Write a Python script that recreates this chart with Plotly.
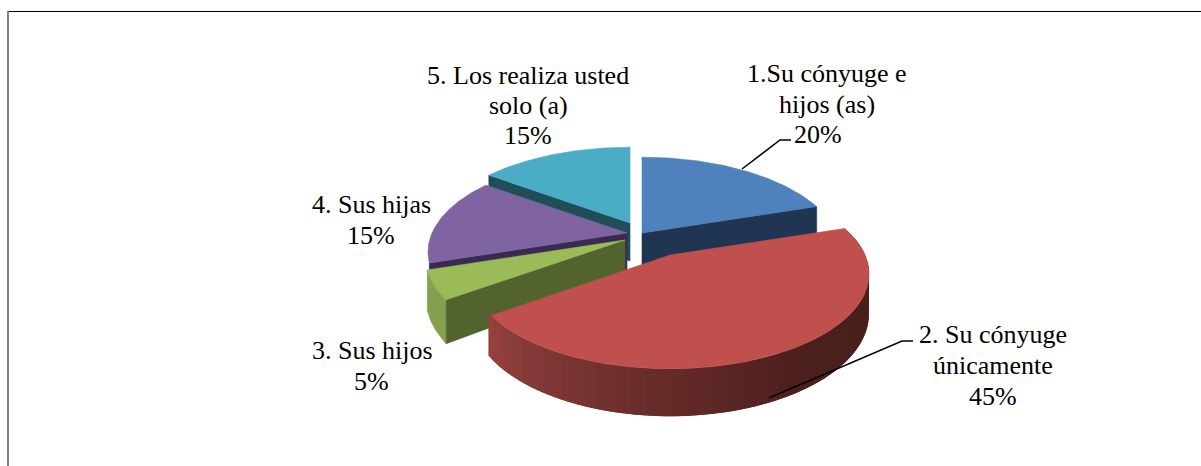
import numpy as np
import plotly.graph_objects as go

# ---- data ----
categories = ["1.Su cónyuge e hijos (as)", "2. Su cónyuge únicamente", "3. Sus hijos",
              "4. Sus hijas", "5. Los realiza usted solo (a)"]
values = [20, 45, 5, 15, 15]
label_lines = [["1.Su cónyuge e", "hijos (as)", "20%"],
               ["2. Su cónyuge", "únicamente", "45%"],
               ["3. Sus hijos", "5%"],
               ["4. Sus hijas", "15%"],
               ["5. Los realiza usted", "solo (a)", "15%"]]

# ---- pie geometry (pixel axes of the page) ----
W, H = 1201, 466
RX, RY, PERSP, DEPTH = 195, 91, 0.2, 38
APEX = [(642, 233), (670, 255), (625, 240), (627, 233), (630, 223)]
TOP = ["#4F81BD", "#BF504D", "#9BBB59", "#8064A2", "#4BACC6"]
CUT = ["#1F3552", "#4E1F1D", "#52632E", "#3A2A52", "#1F4E59"]
WALL_FLAT = {0: "#1F3552", 2: "#84A04E", 3: "#3A2A52", 4: "#1F4E59"}
RED_LIGHT, RED_DARK = np.array([150, 66, 64]), np.array([74, 31, 28])
LABEL_POS = [[(827, 80), (827, 111), (818, 141)],
             [(993, 341), (993, 372), (993, 403)],
             [(372, 357), (371, 388)],
             [(371, 211), (371, 242)],
             [(528, 82), (528, 112), (528, 142)]]
LEADERS = [[(742, 169), (780, 140), (791, 140)],
           [(769, 398), (902, 341), (913, 341)]]

total = sum(values)
edges = np.cumsum([0] + values) / total * 2 * np.pi


def rim(i, th, depth=0.0):
    th = np.asarray(th, float)
    w = -np.cos(th)
    s = 1 / (1 - PERSP * w)
    ax, ay = APEX[i]
    return ax + RX * np.sin(th) * s, ay + RY * w * s + depth * s


def apex_pt(i, depth=0.0):
    return APEX[i][0], APEX[i][1] + depth


def poly(xs, ys, color, lw=0.6):
    return go.Scatter(x=list(xs) + [xs[0]], y=list(ys) + [ys[0]], mode="lines", fill="toself",
                      fillcolor=color, line=dict(color=color, width=lw),
                      hoverinfo="skip", showlegend=False)


def cut_face(i, th):
    x, y = rim(i, th)
    xb, yb = rim(i, th, DEPTH)
    ax, ay = apex_pt(i)
    axb, ayb = apex_pt(i, DEPTH)
    return poly([ax, float(x), float(xb), axb], [ay, float(y), float(yb), ayb], CUT[i])


def top_face(i):
    th = np.linspace(edges[i], edges[i + 1], 120)
    x, y = rim(i, th)
    ax, ay = apex_pt(i)
    return poly([ax] + list(x), [ay] + list(y), TOP[i])


def wall(i, a, b, color, lw=0.6):
    th = np.linspace(a, b, 60)
    x, y = rim(i, th)
    xb, yb = rim(i, th, DEPTH)
    return poly(list(x) + list(xb[::-1]), list(y) + list(yb[::-1]), color, lw)


fig = go.Figure()

# back to front: cyan, purple, blue, green, red
fig.add_trace(cut_face(4, edges[4]))
fig.add_trace(top_face(4))
fig.add_trace(cut_face(3, edges[3]))
fig.add_trace(top_face(3))
fig.add_trace(cut_face(0, edges[1]))
fig.add_trace(top_face(0))
fig.add_trace(wall(2, edges[2], edges[3], WALL_FLAT[2]))
fig.add_trace(cut_face(2, edges[2]))
fig.add_trace(top_face(2))

# red wall with a stepped gradient, dark on the right and lighter to the left
steps = 90
ths = np.linspace(edges[1], edges[2], steps + 1)
for k in range(steps):
    t = (ths[k] - edges[1]) / (edges[2] - edges[1])
    mix = np.clip((t - 0.42) / 0.58, 0, 1) ** 1.2
    c = RED_DARK + (RED_LIGHT - RED_DARK) * mix
    col = "rgb(%d,%d,%d)" % tuple(int(v) for v in c)
    fig.add_trace(wall(1, ths[k], ths[k + 1] + 0.03, col, 0))
fig.add_trace(top_face(1))

for pts in LEADERS:
    fig.add_trace(go.Scatter(x=[p[0] for p in pts], y=[p[1] for p in pts], mode="lines",
                             line=dict(color="black", width=1.5), hoverinfo="skip", showlegend=False))

for lines, poss in zip(label_lines, LABEL_POS):
    for text, (x, y) in zip(lines, poss):
        fig.add_annotation(x=x, y=y - 7, text=text, showarrow=False, xanchor="center", yanchor="middle",
                           font=dict(family="Liberation Serif", size=26, color="#000000"))

fig.add_shape(type="line", x0=8, x1=W, y0=11.5, y1=11.5, line=dict(color="black", width=1))
fig.add_shape(type="line", x0=8, x1=8, y0=11, y1=H, line=dict(color="#808080", width=2))

fig.update_layout(width=W, height=H, margin=dict(l=0, r=0, t=0, b=0), paper_bgcolor="white",
                  plot_bgcolor="white", showlegend=False,
                  xaxis=dict(range=[0, W], visible=False, fixedrange=True),
                  yaxis=dict(range=[H, 0], visible=False, fixedrange=True))
fig.write_html("out.html", config={"displayModeBar": False},
               post_script="document.body.style.margin='0';document.documentElement.style.overflow='hidden';")
